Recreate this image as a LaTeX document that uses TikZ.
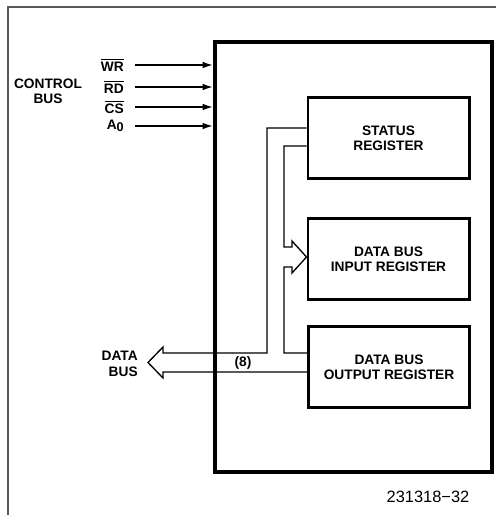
\documentclass[tikz,border=0pt]{standalone}
\usepackage{fontspec}
\setmainfont{Liberation Sans}
\usetikzlibrary{arrows.meta}
\newcommand\ovl[1]{$\overline{\hbox{#1}}$}
\tikzset{
  px/.style={x=0.75pt,y=-0.75pt},
  lbl/.style={font=\fontsize{10.3}{11.5}\selectfont\bfseries, inner sep=0pt},
  reg/.style={draw, line width=2pt, minimum width=121pt, minimum height=60.5pt, align=center,
              font=\fontsize{10.3}{11}\selectfont\bfseries, inner sep=0pt},
  chip/.style={draw, line width=2.6pt, minimum width=207.75pt, minimum height=322.5pt, inner sep=0pt},
  ctl/.style={line width=1.4pt, -{Latex[length=8pt,width=5pt]}},
  bus/.style={line width=1pt, line join=miter},
  frame/.style={draw=black!65, line width=1.3pt}
}
\begin{document}
\begin{tikzpicture}[px]
\useasboundingbox (0,0) rectangle (496,515);
\draw[frame] (8,515) -- (8,7) -- (496,7);
% chip
\node[chip] (box) at (353.5,257) {};
% registers
\node[reg] (st) at (388.5,138) {STATUS\\REGISTER};
\node[reg] (in) at (388.5,259) {DATA BUS\\INPUT REGISTER};
\node[reg] (out) at (389,367) {DATA BUS\\OUTPUT REGISTER};
% control bus
\node[lbl, align=center] (cb) at (48,91) {CONTROL\\BUS};
\node[lbl, anchor=east] (wr) at (124,65) {\ovl{WR}};
\node[lbl, anchor=east] (rd) at (124,87) {\ovl{RD}};
\node[lbl, anchor=east] (cs) at (124,107) {\ovl{CS}};
\node[lbl, anchor=east] (a0) at (124,126) {A\raisebox{-0.35ex}{\fontsize{9.5}{9.5}\selectfont 0}};
\foreach \n in {wr,rd,cs,a0}
  \draw[ctl] ([xshift=8pt]\n.east) -- (\n.east -| box.west);
% data bus (outer)
\coordinate (tip) at (148,362.5);
\draw[bus] (st.west |- 0,128) -- (267,128) -- (267,353) -- (163,353) -- (163,347)
  -- (tip) -- (163,378) -- (163,372) -- (out.west |- 0,372);
% internal bus to input register
\draw[bus] (st.west |- 0,146) -- (284,146) -- (284,247) -- (292,247) -- (292,241)
  -- (in.west |- 0,257) -- (292,273) -- (292,267) -- (284,267) -- (284,353)
  -- (out.west |- 0,353);
\node[lbl] (eight) at (243,363) {(8)};
\node[lbl, align=right, anchor=east] (db) at (138,364) {DATA\\BUS};
\node[font=\fontsize{12.3}{13}\selectfont, inner sep=0pt] (fig) at (428,497) {231318−32};
\end{tikzpicture}
\end{document}
